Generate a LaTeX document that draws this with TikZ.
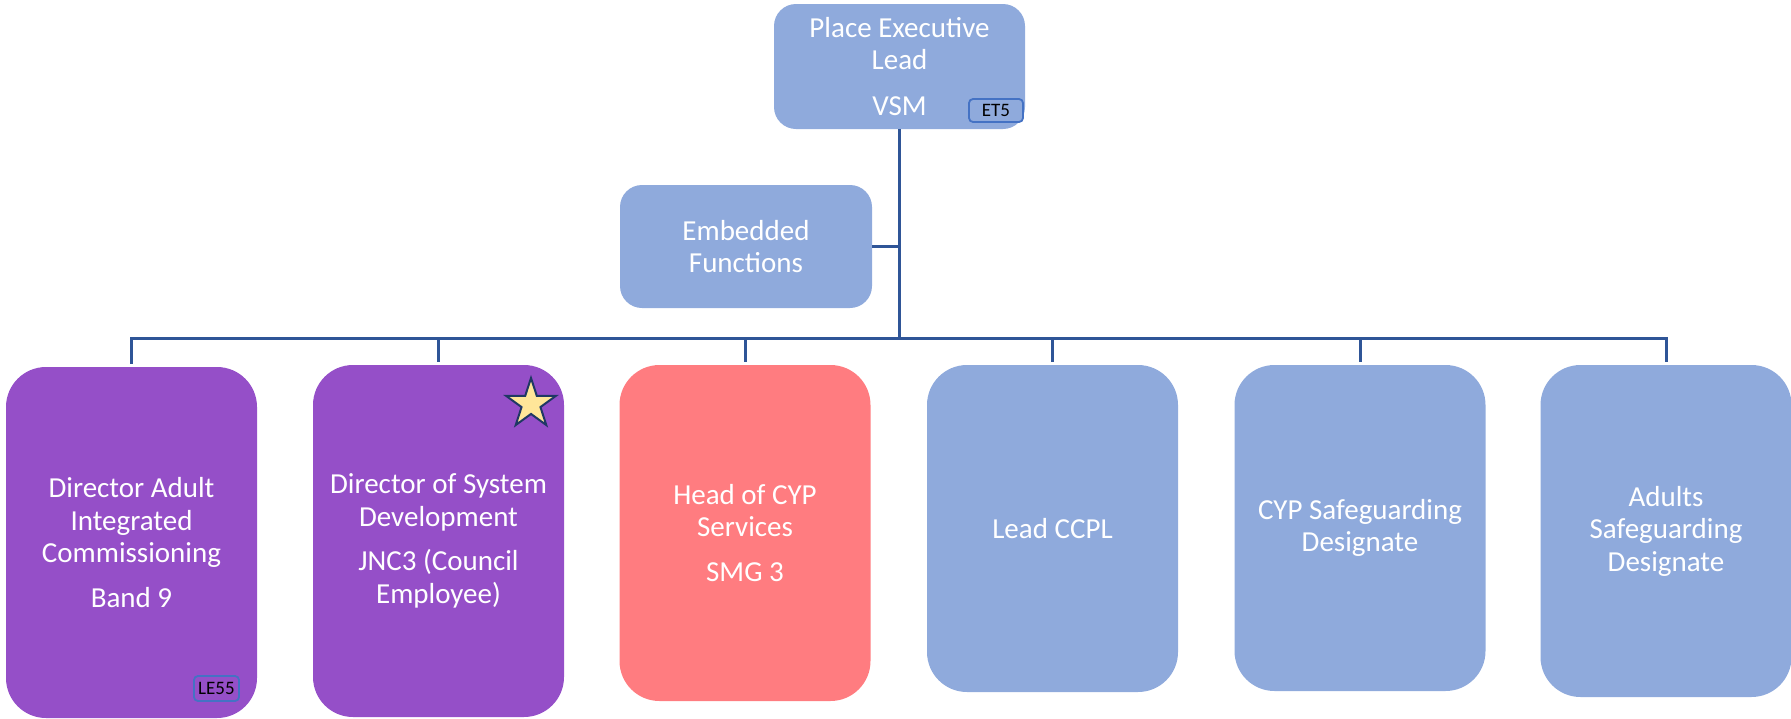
\documentclass[tikz,border=0pt]{standalone}
\usepackage{fontspec}
\setmainfont{Carlito}
\usetikzlibrary{shapes.geometric}
\definecolor{boxblue}{HTML}{8FAADC}
\definecolor{boxpurple}{HTML}{954FC8}
\definecolor{boxred}{HTML}{FF7C80}
\definecolor{linkblue}{HTML}{2F5597}
\definecolor{tagborder}{HTML}{4472C4}
\definecolor{starfill}{HTML}{FFE699}
\definecolor{starline}{HTML}{1F3864}
\begin{document}
\begin{tikzpicture}[x=1pt,y=-1pt,
  card/.style={rectangle, rounded corners=40pt, inner sep=0pt, minimum width=251pt,
    text=white, align=center, font=\fontsize{29}{32.5}\selectfont},
  topcard/.style={card, rounded corners=22pt},
  tagbox/.style={rectangle, rounded corners=4pt, draw=tagborder, line width=1.8pt,
    inner sep=0pt, font=\fontsize{19}{22}\selectfont, text=black},
  link/.style={draw=linkblue, line width=3pt, line join=miter}]
\useasboundingbox (0,0) rectangle (1791,718);

% top level
\node[topcard, fill=boxblue, minimum height=125pt] (top) at (899.5,66.5)
  {Place Executive\\Lead\\[13pt]VSM};
\node[tagbox, fill=boxblue, minimum width=54pt, minimum height=23pt] (et5) at (996,110.5) {ET5};

\node[topcard, fill=boxblue, minimum width=252pt, minimum height=123pt] (emb) at (746,246.5)
  {Embedded\\Functions};

% children
\node[card, fill=boxpurple, minimum height=351pt] (c1) at (131.5,542.5)
  {Director Adult\\Integrated\\Commissioning\\[12pt]Band 9};
\node[tagbox, fill=boxpurple, minimum width=45pt, minimum height=25pt] (le55) at (216.5,688.5) {LE55};

\node[card, fill=boxpurple, minimum height=352pt] (c2) at (438.5,541)
  {Director of System\\Development\\[12pt]JNC3 (Council\\Employee)};
\node[star, star points=5, star point ratio=2.618, minimum size=52pt, inner sep=0pt,
  fill=starfill, draw=starline, line width=2pt] (star) at (531,404) {};

\node[card, fill=boxred, minimum height=336pt] (c3) at (745,533)
  {Head of CYP\\Services\\[12pt]SMG 3};
\node[card, fill=boxblue, minimum height=327pt] (c4) at (1052.5,528.5) {Lead CCPL};
\node[card, fill=boxblue, minimum height=326pt] (c5) at (1360,528)
  {CYP Safeguarding\\Designate};
\node[card, fill=boxblue, minimum height=332pt] (c6) at (1666,531)
  {Adults\\Safeguarding\\Designate};

% connectors
\coordinate (bus) at (0,338);
\draw[link] (top.south) -- (top.south |- bus);
\draw[link] (emb.east) -- (emb.east -| top.south);
\draw[link] ([yshift=3pt]c1.north) |- (c6.north |- bus) -- ([yshift=3pt]c6.north);
\foreach \i in {2,3,4,5}{
  \draw[link] (c\i.north |- bus) -- ([yshift=3pt]c\i.north);
}
\end{tikzpicture}
\end{document}
